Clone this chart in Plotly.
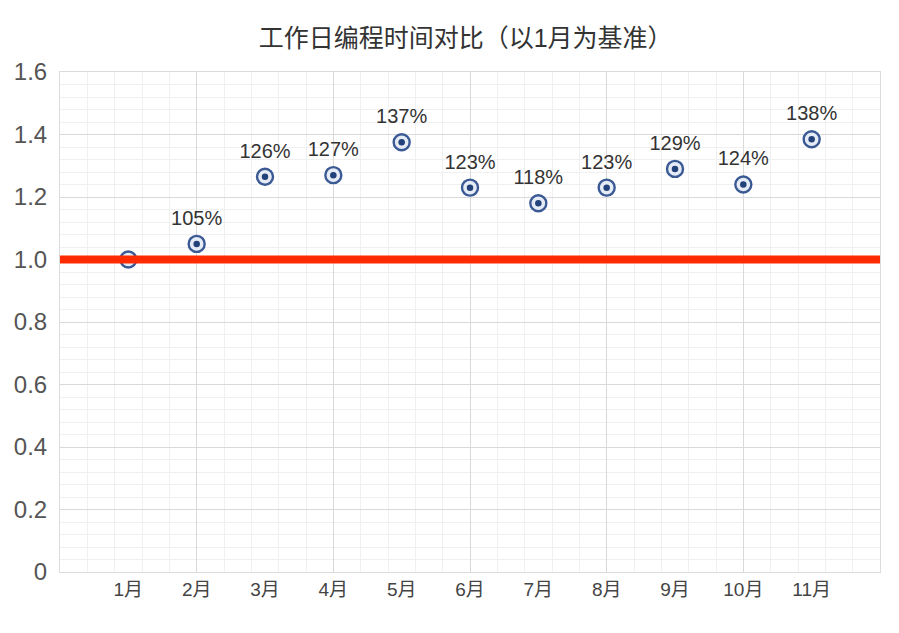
import plotly.graph_objects as go

months = ["1月", "2月", "3月", "4月", "5月", "6月", "7月", "8月", "9月", "10月", "11月"]
ratios = [1.00, 1.05, 1.265, 1.27, 1.375, 1.23, 1.18, 1.23, 1.29, 1.24, 1.385]
labels = ["", "105%", "126%", "127%", "137%", "123%", "118%", "123%", "129%", "124%", "138%"]
baseline = 1.0
y_ticks = [0, 0.2, 0.4, 0.6, 0.8, 1.0, 1.2, 1.4, 1.6]
y_ticktext = ["0", "0.2", "0.4", "0.6", "0.8", "1.0", "1.2", "1.4", "1.6"]

xpos = list(range(1, len(months) + 1))
FONT = "Liberation Sans, Noto Sans CJK SC"
NAVY = "#3b5a95"

fig = go.Figure()

# outer ring markers
fig.add_trace(go.Scatter(
    x=xpos, y=ratios, mode="markers",
    marker=dict(size=16, color="#e6ecf5", line=dict(color=NAVY, width=2.4)),
    hoverinfo="skip", showlegend=False,
))
# inner dot
fig.add_trace(go.Scatter(
    x=xpos, y=ratios, mode="markers",
    marker=dict(size=6.5, color="#23427a"),
    hoverinfo="skip", showlegend=False,
))
# baseline
fig.add_trace(go.Scatter(
    x=[0, len(months) + 1], y=[baseline, baseline], mode="lines",
    line=dict(color="#ff2a00", width=8),
    hoverinfo="skip", showlegend=False, xaxis="x2",
))
# labels (invisible spacer marker pushes text above the ring)
fig.add_trace(go.Scatter(
    x=xpos, y=ratios, mode="markers+text", text=labels, textposition="top center",
    marker=dict(size=21, color="rgba(0,0,0,0)"),
    textfont=dict(family=FONT, size=20, color="#333333"),
    hoverinfo="skip", showlegend=False,
))

fig.update_layout(
    width=899, height=633,
    margin=dict(l=60, r=19, t=72, b=61),
    paper_bgcolor="white", plot_bgcolor="white",
    title=dict(text="工作日编程时间对比（以1月为基准）", x=0.518, xanchor="center",
               y=0.94, yanchor="middle",
               font=dict(family=FONT, size=25, color="#333333")),
    xaxis=dict(range=[0, len(months) + 1], tickvals=xpos, ticktext=months,
               showgrid=False, zeroline=False, ticks="",
               showline=True, linecolor="#dcdcdc", mirror=True, linewidth=1,
               tickfont=dict(family=FONT, size=19, color="#444444")),
    xaxis2=dict(range=[0, len(months) + 1], overlaying="x", matches="x",
                showticklabels=False, ticks="", tick0=0, dtick=2,
                showgrid=True, gridcolor="#d9d9d9", gridwidth=1, zeroline=False,
                minor=dict(tick0=0, dtick=0.4, showgrid=True, gridcolor="#f0f0f0", gridwidth=1)),
    yaxis=dict(range=[0, 1.6], tickvals=y_ticks, ticktext=y_ticktext,
               showgrid=True, gridcolor="#d9d9d9", gridwidth=1, zeroline=False,
               showline=True, linecolor="#dcdcdc", mirror=True, linewidth=1,
               ticks="", ticklen=0, ticklabelstandoff=7,
               minor=dict(tick0=0, dtick=0.04, showgrid=True, gridcolor="#f0f0f0", gridwidth=1),
               tickfont=dict(family=FONT, size=24, color="#555555")),
)

fig.write_html("out.html")
